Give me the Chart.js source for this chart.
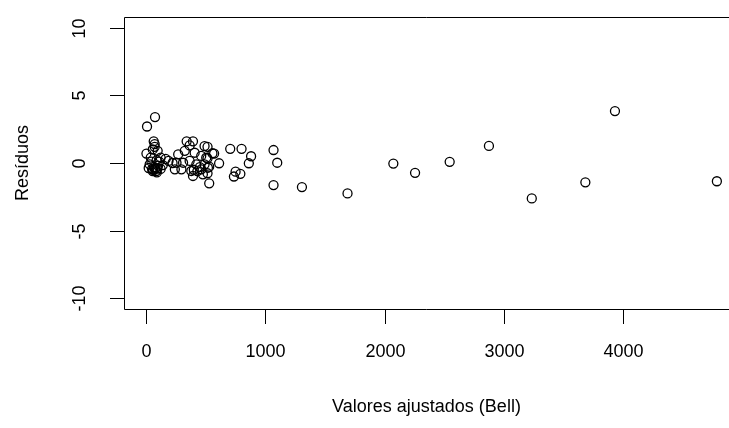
<!DOCTYPE html>
<html>
<head>
<meta charset="utf-8">
<script src="https://cdn.jsdelivr.net/npm/chart.js@4"></script>
<style>
  body { margin: 0; background: #fff; }
  canvas { display: block; }
</style>
</head>
<body>
<canvas id="resChart" width="729" height="428"></canvas>
<script>
// fitted values (Bell) and residuals
const fitted = [
  8, 75, 64, 72, 56, 97, 3, 39, 122, 164, 188, 222, 22, 80, 122, 56, 90, 100, 45, 110, 30, 140,
  60, 75, 85, 65, 95, 50, 72, 88,
  340, 393, 365, 490, 324, 269, 407, 462, 504, 255, 310, 365, 421, 490, 241, 296, 379, 462, 518,
  393, 476, 515, 556, 612, 515, 529, 515, 529, 570, 400, 430, 450,
  705, 800, 880, 861, 750, 736, 790, 1068, 1099, 1068, 1306, 1688, 2072, 2254, 2544, 2873,
  3232, 3681, 3929, 4783
];
const residuals = [
  2.7, 3.4, 1.6, 1.4, 1.0, 0.9, 0.7, 0.4, 0.4, 0.3, 0.15, 0.0, -0.37, -0.37, -0.44, -0.6, -0.7, -0.2, 0.1, 0.1, -0.1, -0.15,
  -0.5, -0.45, -0.6, -0.3, -0.4, -0.45, 1.2, 0.2,
  1.6, 1.6, 1.3, 1.25, 0.9, 0.64, 0.76, 0.52, 0.39, 0.02, 0.02, 0.15, -0.1, -0.1, -0.47, -0.47, -0.59, -0.47, -0.35,
  -0.96, -0.84, 1.2, 0.72, -0.02, 0.35, -0.27, -0.76, -1.5, 0.7, -0.5, -0.6, -0.3,
  1.05, 1.05, 0.5, -0.02, -0.64, -1.0, -0.8, 0.96, 0.02, -1.63, -1.78, -2.25, -0.04, -0.73, 0.09, 1.26,
  -2.62, -1.43, 3.84, -1.35
];
const xTicks = [0, 1000, 2000, 3000, 4000];
const yTicks = [-10, -5, 0, 5, 10];
const xTitle = "Valores ajustados (Bell)";
const yTitle = "Resíduos";

const FONT = '18px "Liberation Sans", Arial, sans-serif';

// R style box, ticks and labels, placed through the chart scales
const rAxes = {
  id: "rAxes",
  afterDraw(chart) {
    const ctx = chart.ctx;
    const a = chart.chartArea;
    const xs = chart.scales.x, ys = chart.scales.y;
    ctx.save();
    ctx.strokeStyle = "#000";
    ctx.lineWidth = 1;
    ctx.beginPath();
    ctx.moveTo(729, a.top + 0.5);
    ctx.lineTo(a.left + 0.5, a.top + 0.5);
    ctx.lineTo(a.left + 0.5, a.bottom + 0.5);
    ctx.lineTo(729, a.bottom + 0.5);
    ctx.stroke();

    ctx.fillStyle = "#000";
    ctx.font = FONT;
    ctx.textAlign = "center";
    ctx.textBaseline = "middle";

    xTicks.forEach(v => {
      const x = Math.round(xs.getPixelForValue(v)) + 0.5;
      ctx.beginPath();
      ctx.moveTo(x, a.bottom);
      ctx.lineTo(x, a.bottom + 15);
      ctx.stroke();
      ctx.fillText(String(v), x, 352);
    });

    yTicks.forEach(v => {
      const y = Math.round(ys.getPixelForValue(v)) + 0.5;
      ctx.beginPath();
      ctx.moveTo(a.left - 14, y);
      ctx.lineTo(a.left, y);
      ctx.stroke();
      ctx.save();
      ctx.translate(80, y);
      ctx.rotate(-Math.PI / 2);
      ctx.fillText(String(v), 0, 0);
      ctx.restore();
    });

    ctx.fillText(xTitle, (a.left + 729) / 2, 407);
    ctx.save();
    ctx.translate(23, (a.top + a.bottom) / 2);
    ctx.rotate(-Math.PI / 2);
    ctx.fillText(yTitle, 0, 0);
    ctx.restore();
    ctx.restore();
  }
};

const points = fitted.map((x, i) => ({ x: x, y: residuals[i] }));

new Chart(document.getElementById("resChart"), {
  type: "scatter",
  data: {
    datasets: [{
      data: points,
      pointStyle: "circle",
      pointRadius: 4.5,
      pointBorderWidth: 1.3,
      borderColor: "#000",
      backgroundColor: "rgba(0,0,0,0)"
    }]
  },
  options: {
    responsive: false,
    animation: false,
    layout: { padding: { left: 124, right: 0, top: 17, bottom: 119 } },
    scales: {
      x: { type: "linear", min: -185, max: 4836, display: false },
      y: { type: "linear", min: -10.8, max: 10.8, display: false }
    },
    plugins: {
      legend: { display: false },
      tooltip: { enabled: false }
    }
  },
  plugins: [rAxes]
});
</script>
</body>
</html>
